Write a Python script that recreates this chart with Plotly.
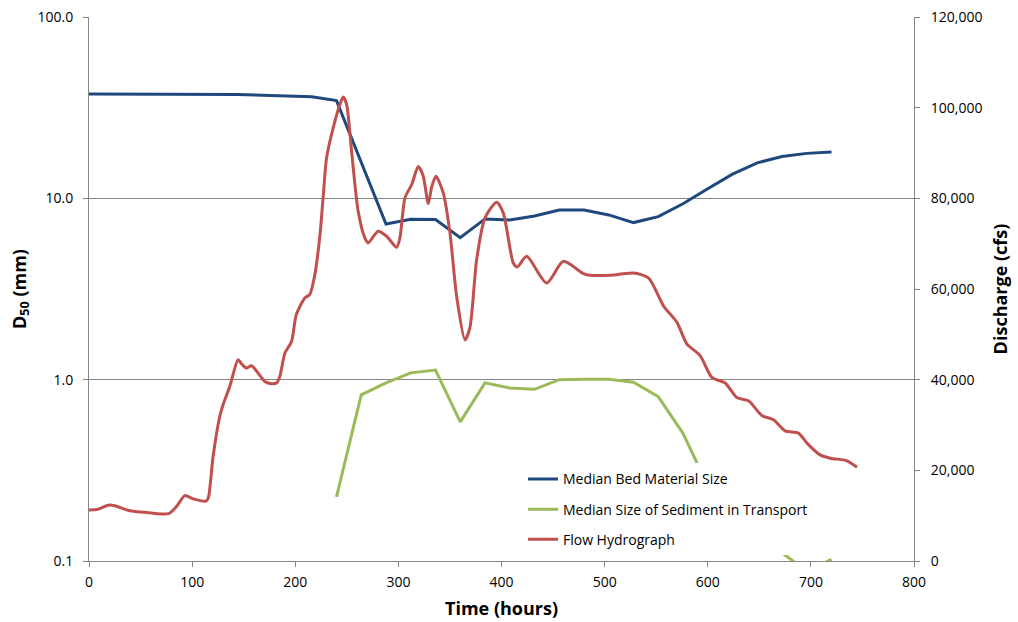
import plotly.graph_objects as go

# ---- data ----
bed_time = [0, 24, 48, 72, 96, 120, 144, 168, 192, 216, 240, 264, 288, 312, 336, 360, 384,
            408, 432, 456, 480, 504, 528, 552, 576, 600, 624, 648, 672, 696, 720]
bed_d50 = [37.6, 37.6, 37.6, 37.6, 37.6, 37.6, 37.4, 37.0, 36.7, 36.3, 34.6, 16.0, 7.22, 7.67, 7.65,
           6.07, 7.7, 7.6, 8.0, 8.63, 8.63, 8.1, 7.35, 7.93, 9.34, 11.3, 13.6, 15.7, 17.0, 17.7, 18.0]

sed_time = [240, 264, 288, 312, 336, 360, 384, 408, 432, 456, 480, 504, 528, 552, 576, 600,
            624, 648, 672, 696, 720]
sed_d50 = [0.226, 0.824, 0.96, 1.09, 1.13, 0.585, 0.96, 0.90, 0.885, 1.0, 1.005, 1.005, 0.968,
           0.806, 0.506, 0.26, 0.16, 0.13, 0.111, 0.088, 0.102]

flow_time = [0, 8.7, 18.4, 25, 39.5, 54, 70, 78, 84.8, 92.9, 101, 114, 116, 120.3, 126.8, 130,
             136.5, 144.6, 147.9, 152.7, 157.6, 170.5, 177, 181.8, 185, 190, 196.4, 201, 209.3,
             214, 219, 224, 227, 230.4, 236.8, 243.3, 246.5, 249.8, 254.6, 261, 267.5, 270.7,
             280.4, 288.6, 298.3, 301.5, 306.4, 312.9, 319.3, 324, 329, 332.3, 336.4, 343.5,
             350, 356.5, 364.6, 369.4, 375.9, 384, 395.3, 401.7, 411.4, 415.3, 424.4, 443.8,
             460, 479.4, 485.9, 511.8, 527.9, 542.5, 557.3, 570, 579.7, 592.6, 604, 616.9,
             628.2, 639.5, 652.5, 663.8, 675.1, 688, 696.2, 709, 718.8, 731.7, 736.5, 744.7]
flow_q = [11260, 11420, 12300, 12200, 11100, 10750, 10380, 10530, 12000, 14420, 13700, 13250,
          14200, 23000, 31870, 34450, 38500, 44400, 43500, 42560, 43070, 39600, 39100, 39250,
          40700, 45870, 48440, 54330, 58020, 58750, 63170, 72000, 80100, 88940, 95570, 100700,
          102330, 100700, 90400, 77150, 71270, 70170, 72730, 71630, 69200, 71270, 80100, 83050,
          87000, 85000, 78850, 82500, 84880, 81200, 72380, 58370, 48800, 51500, 66480, 75690,
          79140, 76800, 65750, 64870, 67200, 61330, 66100, 63390, 63020, 63170, 63540, 62440,
          56170, 52700, 47900, 45300, 40500, 39250, 36070, 35340, 32100, 31140, 28710, 28200,
          26000, 23410, 22680, 22300, 21930, 20700]

x_ticks = [0, 100, 200, 300, 400, 500, 600, 700, 800]
y_ticks = [0.1, 1, 10, 100]
y_ticktext = ["0.1", "1.0", "10.0", "100.0"]
y2_ticks = [0, 20000, 40000, 60000, 80000, 100000, 120000]

BLUE = "#1F497D"
GREEN = "#9BBB59"
RED = "#C0504D"
AXC = "#868686"
FONT = "Open Sans"

fig = go.Figure()
fig.add_trace(go.Scatter(x=bed_time, y=bed_d50, mode="lines", name="Median Bed Material Size",
                         line=dict(color=BLUE, width=3), legendgroup="a"))
fig.add_trace(go.Scatter(x=sed_time, y=sed_d50, mode="lines",
                         name="Median Size of Sediment in Transport",
                         line=dict(color=GREEN, width=3), legendgroup="b"))
fig.add_trace(go.Scatter(x=flow_time, y=flow_q, mode="lines", name="Flow Hydrograph",
                         line=dict(color=RED, width=3, shape="spline", smoothing=0.7),
                         yaxis="y2", legendgroup="c"))

fig.update_layout(
    width=1018, height=622,
    margin=dict(l=89, r=104, t=17, b=61, autoexpand=False),
    paper_bgcolor="white", plot_bgcolor="white",
    font=dict(family=FONT, size=14, color="black"),
    showlegend=True,
    legend=dict(x=0.526, y=0.1795, xanchor="left", yanchor="top",
                bgcolor="white", borderwidth=0, tracegroupgap=9,
                font=dict(family=FONT, size=14)),
    xaxis=dict(range=[0, 800], tickvals=x_ticks, showline=True, linecolor=AXC, linewidth=1,
               ticks="outside", ticklen=5, tickcolor=AXC, showgrid=False, zeroline=False,
               tickfont=dict(size=14), automargin=False, ticklabelstandoff=3,
               title=dict(text="<b>Time (hours)</b>", font=dict(size=18), standoff=12)),
    yaxis=dict(type="log", range=[-1, 2], tickvals=y_ticks, ticktext=y_ticktext,
               showline=True, linecolor=AXC, linewidth=1, ticks="outside", ticklen=5,
               tickcolor=AXC, showgrid=True, gridcolor=AXC, gridwidth=1, zeroline=False,
               tickfont=dict(size=14), automargin=False, ticklabelstandoff=7,
               title=dict(text="<b>D<sub>50</sub> (mm)</b>", font=dict(size=18), standoff=6)),
    yaxis2=dict(overlaying="y", side="right", range=[0, 120000], tickvals=y2_ticks,
                tickformat=",", showline=True, linecolor=AXC, linewidth=1, ticks="outside",
                ticklen=5, tickcolor=AXC, showgrid=False, zeroline=False,
                tickfont=dict(size=14), automargin=False, ticklabelstandoff=8,
                title=dict(text="<b>Discharge (cfs)</b>", font=dict(size=18), standoff=12)),
)

fig.write_html("out.html")
